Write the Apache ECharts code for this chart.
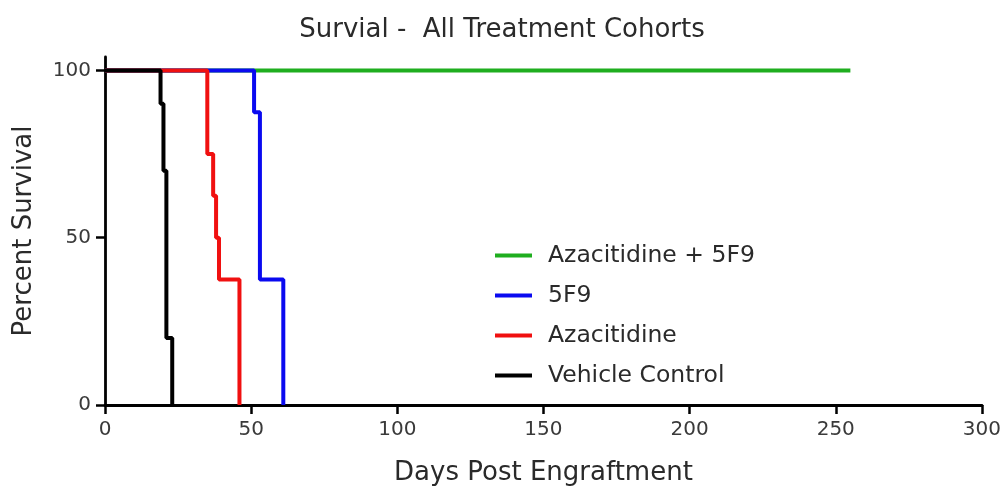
<!DOCTYPE html>
<html>
<head>
<meta charset="utf-8">
<script src="https://cdn.jsdelivr.net/npm/echarts@6/dist/echarts.min.js"></script>
<style>
html,body{margin:0;padding:0;background:#fff;}
#chart{width:1004px;height:491px;}
</style>
</head>
<body>
<div id="chart"></div>
<script>
// Data (Kaplan-Meier step curves)
const comboDays = [0, 255];
const comboSurv = [100, 100];
const f9Days = [0, 51, 53, 61];
const f9Surv = [100, 87.5, 37.5, 0];
const azaDays = [0, 35, 37, 38, 39, 46];
const azaSurv = [100, 75, 62.5, 50, 37.5, 0];
const vehDays = [0, 19, 20, 21, 23];
const vehSurv = [100, 90, 70, 20, 0];
const xTicks = [0, 50, 100, 150, 200, 250, 300];
const yTicks = [0, 50, 100];
const seriesNames = ['Azacitidine + 5F9', '5F9', 'Azacitidine', 'Vehicle Control'];
const seriesColors = ['#1fae1f', '#0a0af0', '#f01010', '#000000'];

const pairs = [[comboDays, comboSurv], [f9Days, f9Surv], [azaDays, azaSurv], [vehDays, vehSurv]];
const font = '"DejaVu Sans", sans-serif';

const chart = echarts.init(document.getElementById('chart'), null, {renderer: 'canvas'});
chart.setOption({
  backgroundColor: '#ffffff',
  animation: false,
  title: {
    text: 'Survial -  All Treatment Cohorts',
    left: 'center',
    top: 12,
    textStyle: {fontFamily: font, fontSize: 26, fontWeight: 'normal', color: '#2a2a2a'}
  },
  legend: {
    orient: 'vertical',
    left: 490,
    top: 238,
    icon: 'rect',
    itemWidth: 37,
    itemHeight: 4,
    itemGap: 15,
    data: seriesNames,
    textStyle: {fontFamily: font, fontSize: 23.5, color: '#2a2a2a', lineHeight: 25, padding: [0, 0, 0, 11]}
  },
  grid: {left: 105, right: 19, top: 57, bottom: 83, containLabel: false},
  xAxis: {
    type: 'value',
    min: 0, max: 300, interval: 50,
    name: 'Days Post Engraftment',
    nameLocation: 'middle',
    nameGap: 55,
    nameTextStyle: {fontFamily: font, fontSize: 26, color: '#2a2a2a'},
    axisLine: {show: true, onZero: false, lineStyle: {color: '#000', width: 2.8}},
    axisTick: {show: true, length: 9, lineStyle: {color: '#000', width: 2.5}, customValues: xTicks},
    axisLabel: {fontFamily: font, fontSize: 20, color: '#3a3a3a', margin: 15, customValues: xTicks},
    splitLine: {show: false}
  },
  yAxis: {
    type: 'value',
    min: 0, max: 104,
    name: 'Percent Survival',
    nameLocation: 'middle',
    nameGap: 68,
    nameTextStyle: {fontFamily: font, fontSize: 26, color: '#2a2a2a'},
    axisLine: {show: true, onZero: false, lineStyle: {color: '#000', width: 2.8}},
    axisTick: {show: true, length: 9, lineStyle: {color: '#000', width: 2.5}, customValues: yTicks},
    axisLabel: {fontFamily: font, fontSize: 20, color: '#3a3a3a', margin: 14, customValues: yTicks},
    splitLine: {show: false}
  },
  series: seriesNames.map((name, i) => ({
    name: name,
    type: 'line',
    step: 'end',
    showSymbol: false,
    symbol: 'none',
    z: 2 + i,
    color: seriesColors[i],
    lineStyle: {width: 4, color: seriesColors[i]},
    data: pairs[i][0].map((d, k) => [d, pairs[i][1][k]])
  }))
});
</script>
</body>
</html>
